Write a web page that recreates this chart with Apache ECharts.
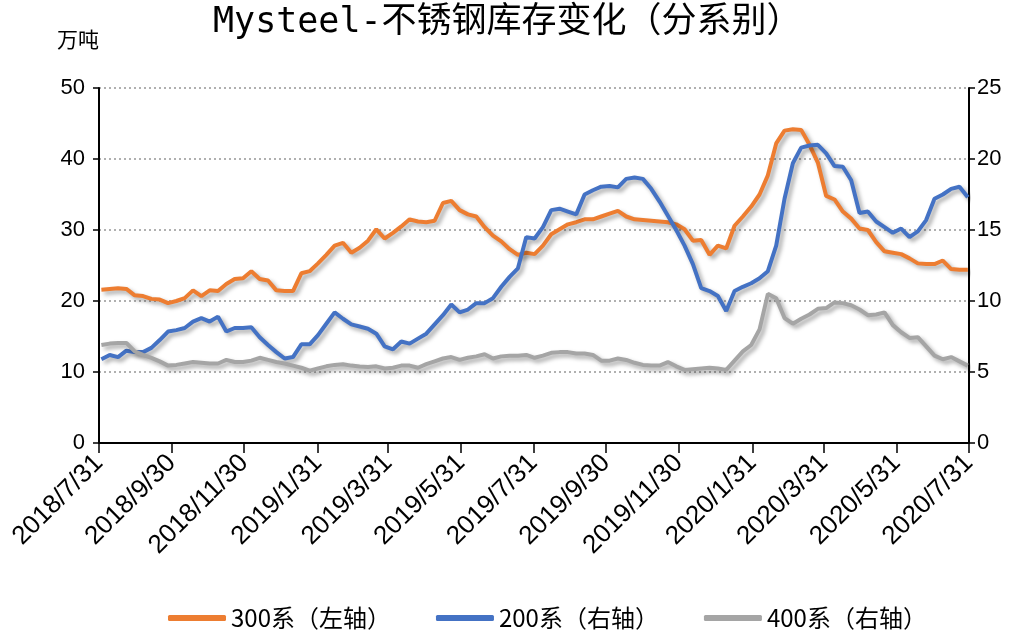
<!DOCTYPE html>
<html>
<head>
<meta charset="utf-8">
<script src="https://cdn.jsdelivr.net/npm/echarts@6/dist/echarts.min.js"></script>
<style>
html, body { margin: 0; padding: 0; background: #fff; }
#main { width: 1020px; height: 639px; }
</style>
</head>
<body>
<div id="main"></div>
<script>
// 周度数据（每周四），单位：万吨
var firstWeek = [2018, 8, 2];
var tickLabels = ['2018/7/31', '2018/9/30', '2018/11/30', '2019/1/31', '2019/3/31', '2019/5/31', '2019/7/31',
    '2019/9/30', '2019/11/30', '2020/1/31', '2020/3/31', '2020/5/31', '2020/7/31'];

// 300系（左轴）
var s300 = [21.6, 21.7, 21.8, 21.7, 20.8, 20.7, 20.3, 20.2, 19.7, 20.0,
    20.4, 21.5, 20.7, 21.5, 21.4, 22.4, 23.1, 23.2, 24.2, 23.1,
    22.9, 21.5, 21.4, 21.4, 23.9, 24.2, 25.3, 26.5, 27.8, 28.2,
    26.8, 27.5, 28.5, 30.1, 28.8, 29.6, 30.5, 31.5, 31.2, 31.1,
    31.3, 33.8, 34.1, 32.8, 32.2, 31.9, 30.4, 29.2, 28.4, 27.3,
    26.5, 26.8, 26.6, 27.8, 29.4, 30.1, 30.8, 31.1, 31.5, 31.5,
    31.9, 32.3, 32.7, 31.9, 31.5, 31.4, 31.3, 31.2, 31.1, 30.8,
    30.1, 28.5, 28.6, 26.5, 27.8, 27.4, 30.6, 31.9, 33.3, 35.0,
    37.7, 42.2, 44.0, 44.2, 44.1, 42.0, 39.5, 34.8, 34.3, 32.6,
    31.6, 30.2, 30.0, 28.3, 27.0, 26.8, 26.6, 26.0, 25.3, 25.2,
    25.2, 25.7, 24.5, 24.4, 24.4];

// 200系（右轴）
var s200 = [5.9, 6.2, 6.05, 6.5, 6.4, 6.4, 6.7, 7.25, 7.85, 7.95,
    8.1, 8.55, 8.8, 8.55, 8.9, 7.85, 8.1, 8.1, 8.15, 7.45,
    6.9, 6.4, 5.95, 6.05, 6.95, 6.95, 7.6, 8.4, 9.2, 8.75,
    8.35, 8.2, 8.05, 7.7, 6.8, 6.6, 7.15, 7.0, 7.35, 7.7,
    8.35, 9.0, 9.75, 9.2, 9.4, 9.85, 9.85, 10.2, 11.0, 11.7,
    12.3, 14.5, 14.4, 15.2, 16.4, 16.5, 16.3, 16.1, 17.5, 17.8,
    18.05, 18.1, 18.0, 18.6, 18.7, 18.6, 17.9, 17.0, 16.0, 15.0,
    13.9, 12.6, 10.9, 10.7, 10.35, 9.3, 10.7, 11.0, 11.25, 11.6,
    12.1, 13.9, 17.2, 19.7, 20.8, 20.95, 21.0, 20.4, 19.5, 19.45,
    18.5, 16.2, 16.3, 15.6, 15.2, 14.8, 15.1, 14.5, 14.9, 15.7,
    17.2, 17.5, 17.9, 18.05, 17.3];

// 400系（右轴）
var s400 = [6.9, 7.0, 7.05, 7.05, 6.45, 6.2, 6.0, 5.75, 5.45, 5.5,
    5.6, 5.7, 5.65, 5.6, 5.6, 5.85, 5.7, 5.7, 5.8, 6.0,
    5.85, 5.7, 5.6, 5.45, 5.3, 5.1, 5.25, 5.4, 5.5, 5.55,
    5.45, 5.38, 5.35, 5.4, 5.25, 5.3, 5.45, 5.45, 5.3, 5.55,
    5.75, 5.95, 6.05, 5.85, 6.0, 6.1, 6.25, 5.95, 6.1, 6.15,
    6.15, 6.2, 6.0, 6.15, 6.35, 6.4, 6.4, 6.3, 6.3, 6.2,
    5.8, 5.8, 5.95, 5.85, 5.65, 5.5, 5.45, 5.45, 5.7, 5.4,
    5.15, 5.2, 5.25, 5.3, 5.25, 5.15, 5.8, 6.45, 6.9, 8.0,
    10.5, 10.2, 8.8, 8.4, 8.75, 9.05, 9.45, 9.5, 9.9, 9.85,
    9.7, 9.4, 9.0, 9.05, 9.2, 8.3, 7.8, 7.4, 7.45, 6.8,
    6.15, 5.9, 6.05, 5.75, 5.45];

function parseDay(s) {
    var p = s.split('/');
    return new Date(+p[0], +p[1] - 1, +p[2]).getTime();
}
// 每周日期
var weeks = [];
for (var i = 0; i < s300.length; i++) {
    weeks.push(new Date(firstWeek[0], firstWeek[1] - 1, firstWeek[2] + 7 * i).getTime());
}
function pair(arr) {
    return arr.map(function (v, i) { return [weeks[i], v]; });
}
var tickValues = tickLabels.map(parseDay);

var myChart = echarts.init(document.getElementById('main'));
var cjk = '"Noto Sans CJK SC", sans-serif';
var narrow = '"Liberation Sans Narrow", "Liberation Sans", Arial, sans-serif';
var shadow = {
    shadowColor: 'rgba(0,0,0,0.35)',
    shadowBlur: 4,
    shadowOffsetX: 3,
    shadowOffsetY: 3
};

var option = {
    backgroundColor: '#fff',
    animation: false,
    title: {
        text: 'Mysteel-不锈钢库存变化（分系别）',
        left: 208,
        top: 0,
        textStyle: { fontFamily: '"DejaVu Sans Mono", "Noto Sans CJK SC", monospace', fontSize: 35, fontWeight: 'normal', color: '#000' }
    },
    legend: {
        bottom: 4,
        left: 163,
        itemWidth: 58,
        itemHeight: 6,
        itemGap: 45,
        icon: 'roundRect',
        textStyle: { fontFamily: cjk, fontSize: 24, color: '#000' },
        data: ['300系（左轴）', '200系（右轴）', '400系（右轴）']
    },
    grid: { left: 99, right: 51, top: 88, bottom: 196, containLabel: false },
    xAxis: {
        type: 'value',
        min: tickValues[0],
        max: tickValues[tickValues.length - 1],
        axisLine: { lineStyle: { color: '#000', width: 2 } },
        axisTick: { show: true, length: 10, customValues: tickValues, lineStyle: { color: '#000', width: 1.5 } },
        splitLine: { show: false },
        axisLabel: {
            customValues: tickValues,
            rotate: 45,
            margin: 16,
            fontFamily: narrow,
            fontSize: 26,
            color: '#000',
            formatter: function (val) {
                var d = new Date(val);
                return d.getFullYear() + '/' + (d.getMonth() + 1) + '/' + d.getDate();
            }
        }
    },
    yAxis: [{
        type: 'value',
        min: 0, max: 50, interval: 10,
        name: '万吨',
        nameLocation: 'end',
        nameGap: 38,
        nameTextStyle: { fontFamily: cjk, fontSize: 21, color: '#000', align: 'right' },
        axisLine: { show: true, lineStyle: { color: '#000', width: 2 } },
        axisTick: { show: true, length: 6, lineStyle: { color: '#000', width: 1.5 } },
        axisLabel: { fontFamily: narrow, fontSize: 22, color: '#000', margin: 14 },
        splitLine: { show: true, lineStyle: { color: '#b0b0b0', type: [2, 3], width: 2 } }
    }, {
        type: 'value',
        min: 0, max: 25, interval: 5,
        axisLine: { show: true, lineStyle: { color: '#000', width: 2 } },
        axisTick: { show: true, length: 6, lineStyle: { color: '#000', width: 1.5 } },
        axisLabel: { fontFamily: narrow, fontSize: 22, color: '#000', margin: 8 },
        splitLine: { show: false }
    }],
    series: [{
        name: '300系（左轴）',
        type: 'line',
        yAxisIndex: 0,
        symbol: 'none',
        color: '#ED7D31',
        lineStyle: Object.assign({ width: 4, color: '#ED7D31' }, shadow),
        data: pair(s300)
    }, {
        name: '200系（右轴）',
        type: 'line',
        yAxisIndex: 1,
        symbol: 'none',
        color: '#4472C4',
        lineStyle: Object.assign({ width: 4, color: '#4472C4' }, shadow),
        data: pair(s200)
    }, {
        name: '400系（右轴）',
        type: 'line',
        yAxisIndex: 1,
        symbol: 'none',
        color: '#A5A5A5',
        lineStyle: Object.assign({ width: 4, color: '#A5A5A5' }, shadow),
        data: pair(s400)
    }]
};

myChart.setOption(option);
</script>
</body>
</html>
